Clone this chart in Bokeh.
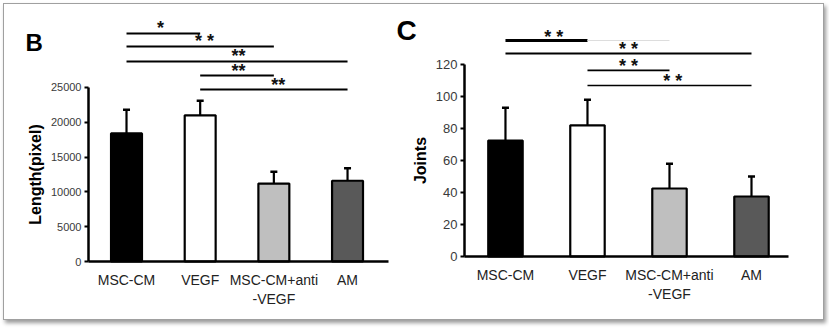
import numpy as np
from bokeh.plotting import figure
from bokeh.layouts import row
from bokeh.models import ColumnDataSource, Range1d, FixedTicker, Whisker, TeeHead, Label
from bokeh.embed import file_html
from bokeh.resources import INLINE
from bokeh.core.properties import value

# ---------------- data ----------------
categories = ["MSC-CM", "VEGF", "MSC-CM+anti\n-VEGF", "AM"]
bar_colors = ["#000000", "#ffffff", "#bfbfbf", "#595959"]

length_mean = [18400, 21000, 11200, 11600]
length_err = [3400, 2100, 1700, 1800]
length_ticks = [0, 5000, 10000, 15000, 20000, 25000]

joints_mean = [72.5, 82, 42.5, 37.5]
joints_err = [20.5, 16, 15.5, 12.5]
joints_ticks = [0, 20, 40, 60, 80, 100, 120]

# significance brackets: (start bar, end bar), level, label
length_sig_pairs = [(0, 1), (0, 2), (0, 3), (1, 2), (1, 3)]
length_sig_levels = [32760, 30890, 28740, 26720, 24710]
length_sig_text = ["*", "* *", "**", "**", "**"]
length_star_x = [0.46, 1.06, 1.52, 1.52, 2.06]
length_sig_widths = [2, 2, 2, 2, 2]

joints_sig_pairs = [(0, 1), (0, 3), (1, 2), (1, 3)]
joints_sig_levels = [135, 126.9, 116.3, 106.9]
joints_sig_text = ["* *", "* *", "* *", "* *"]
joints_star_x = [0.59, 1.5, 1.5, 2.04]
joints_sig_widths = [3, 2, 1.8, 1.6]

TICK_FONT = "Liberation Sans"
CAT_FONT = "Liberation Sans"


def make_panel(width, height, means, errs, ticks, yr, xr, axis_x, axis_end,
               label, letter, letter_xy, letter_size, tick_size, pairs,
               levels, texts, star_x, star_dy, lwidths):
    x = list(range(len(categories)))
    src = ColumnDataSource(dict(
        x=x, top=means, upper=[m + e for m, e in zip(means, errs)],
        color=bar_colors))
    p = figure(width=width, height=height, output_backend="svg",
               toolbar_location=None, title=None, x_range=Range1d(*xr),
               y_range=Range1d(*yr), min_border_left=0, min_border_right=0,
               min_border_top=0, min_border_bottom=0)
    p.outline_line_color = None
    p.grid.visible = False
    p.background_fill_color = "white"
    p.border_fill_color = "white"

    p.vbar(x="x", top="top", bottom=0, width=0.42, fill_color="color",
           line_color="black", line_width=2.2, source=src)
    p.add_layout(Whisker(source=src, base="x", upper="upper", lower="top",
                         dimension="height", line_width=2.2,
                         upper_head=TeeHead(size=7, line_width=2.5),
                         lower_head=None))

    # y axis (fixed inside the frame)
    ya = p.yaxis[0]
    ya.fixed_location = axis_x
    ya.ticker = FixedTicker(ticks=ticks)
    ya.bounds = (0, ticks[-1])
    ya.axis_line_width = 2.5
    ya.major_tick_line_width = 2
    ya.major_tick_out = 4
    ya.major_tick_in = 0
    ya.minor_tick_line_color = None
    ya.major_label_text_font = TICK_FONT
    ya.major_label_text_font_size = tick_size
    ya.major_label_text_color = "#3a3a3a"
    ya.major_label_standoff = 3
    ya.axis_label = label
    ya.axis_label_text_font = TICK_FONT
    ya.axis_label_text_font_style = "bold"
    ya.axis_label_text_font_size = "16px"
    ya.axis_label_text_color = "black"
    ya.axis_label_standoff = 4

    # x axis (fixed at zero)
    xa = p.xaxis[0]
    xa.fixed_location = 0
    xa.bounds = (axis_x, axis_end)
    xa.ticker = FixedTicker(ticks=x)
    xa.major_label_overrides = {i: c for i, c in zip(x, categories)}
    xa.axis_line_width = 2.5
    xa.major_tick_line_color = None
    xa.minor_tick_line_color = None
    xa.major_label_text_font = CAT_FONT
    xa.major_label_text_font_size = "14px"
    xa.major_label_text_color = "#222222"
    xa.major_label_standoff = 4

    # significance brackets
    x0 = [x[a] for a, b in pairs]
    x1 = [x[b] for a, b in pairs]
    p.segment(x0=x0, y0=levels, x1=x1, y1=levels, line_color="black",
              line_width=lwidths)
    p.text(x=star_x, y=[l + star_dy for l in levels], text=texts,
           text_font=value(TICK_FONT), text_font_size="18px",
           text_font_style="bold", text_align="center",
           text_baseline="middle", text_color="#111111")

    p.add_layout(Label(x=letter_xy[0], y=letter_xy[1], text=letter,
                       text_font=TICK_FONT, text_font_style="bold",
                       text_font_size=letter_size, text_baseline="top",
                       text_color="black"))
    return p


p1 = make_panel(391, 315, length_mean, length_err, length_ticks,
                (-8333, 36925), (-1.656, 3.651), -0.516, 3.557,
                "Length(pixel)", "B", (-1.371, 33405), "24px", "11px",
                length_sig_pairs, length_sig_levels, length_sig_text,
                length_star_x, 720, length_sig_widths)
p2 = make_panel(428, 315, joints_mean, joints_err, joints_ticks,
                (-39.375, 157.5), (-1.341, 3.878), -0.5, 3.45,
                "Joints", "C", (-1.329, 150.8), "28px", "13px",
                joints_sig_pairs, joints_sig_levels, joints_sig_text,
                joints_star_x, 2.5, joints_sig_widths)

# faint continuation of the top bracket in panel C
p2.segment(x0=[joints_sig_pairs[0][1]], y0=[joints_sig_levels[0]],
           x1=[joints_sig_pairs[2][1]], y1=[joints_sig_levels[0]],
           line_color="#dddddd", line_width=1)

layout = row(p1, p2, margin=(3, 0, 0, 3),
             styles={"border": "1px solid #a0a0a0",
                     "box-shadow": "2px 3px 4px #9a9a9a"})

open("out.html", "w").write(file_html(layout, INLINE))
